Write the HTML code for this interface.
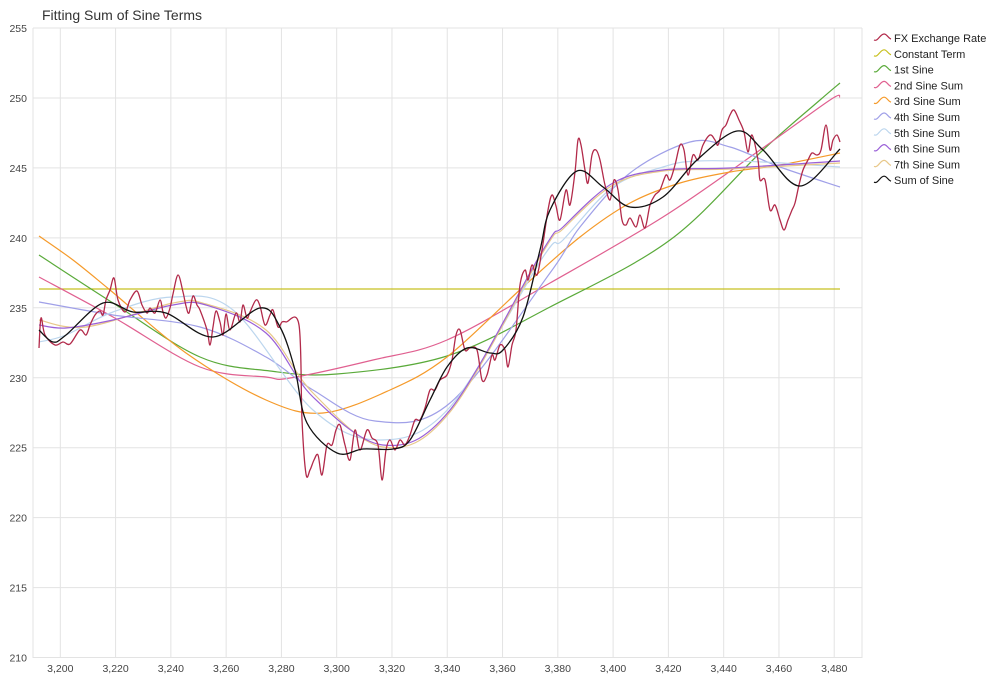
<!DOCTYPE html>
<html><head><meta charset="utf-8"><style>
body{margin:0;background:#fff;}
svg{display:block;font-family:"Liberation Sans",sans-serif;}
</style></head><body>
<svg id="s" width="998" height="681" viewBox="0 0 998 681">
<rect width="998" height="681" fill="#fff"/>
<g id="grid" stroke="#e3e3e3" stroke-width="1"></g>
<g id="axes" fill="#444" font-size="10.5"></g>
<text x="42" y="20" font-size="14" fill="#333">Fitting Sum of Sine Terms</text>
<g id="series" fill="none" stroke-width="1.2" stroke-linejoin="round"></g>
<g id="legend" font-size="11" fill="#222"></g>
</svg>
<script>
var NS="http://www.w3.org/2000/svg";
function el(t,a,p,txt){var e=document.createElementNS(NS,t);for(var k in a)e.setAttribute(k,a[k]);if(txt!=null)e.textContent=txt;p.appendChild(e);return e;}
var X=function(v){return 60.3+(v-3200)*2.764;};
var Y=function(v){return 28+(255-v)*13.99;};
var g=document.getElementById('grid'),ax=document.getElementById('axes');
for(var v=210;v<=255;v+=5){var y=Y(v);el('line',{x1:33,x2:862,y1:y,y2:y},g);el('text',{x:27,y:y+4,'text-anchor':'end'},ax,String(v));}
for(var v=3200;v<=3480;v+=20){var x=X(v);el('line',{x1:x,x2:x,y1:28,y2:658},g);el('text',{x:x,y:672,'text-anchor':'middle'},ax,(v+'').replace(/(\d)(\d{3})$/,'$1,$2'));}
el('line',{x1:33,x2:33,y1:28,y2:658},g);el('line',{x1:862,x2:862,y1:28,y2:658},g);
function cr(p){var d='M'+p[0][0]+','+p[0][1];for(var i=0;i<p.length-1;i++){var p0=p[i-1]||p[i],p1=p[i],p2=p[i+1],p3=p[i+2]||p2;
d+=' C'+(p1[0]+(p2[0]-p0[0])/6)+','+(p1[1]+(p2[1]-p0[1])/6)+' '+(p2[0]-(p3[0]-p1[0])/6)+','+(p2[1]-(p3[1]-p1[1])/6)+' '+p2[0]+','+p2[1];}return d;}
var S=document.getElementById('series');
function add(pts,c,w){el('path',{d:cr(pts),stroke:c,'stroke-width':w||1.2},S);}
add([[39,289],[840,289]],'#c8c020');
add([[39,255],[113,303],[200,357],[270,371],[337,374],[447,356],[550,307],[670,240],[763,150],[820,100],[840,83]],'#5aaa3a');
add([[39,277],[113,317],[200,367],[266,377],[290,378],[373,360],[447,340],[550,283],[663,217],[760,150],[830,100],[840,97]],'#e06090');
add([[39,236],[73,260],[110,290],[186,353],[266,400],[323,413],[390,390],[447,357],[523,287],[580,237],[630,203],[680,183],[730,172],[780,165],[840,153]],'#f59a2a');
add([[39,302],[113,315],[200,327],[266,357],[313,390],[375,421],[450,403],[550,273],[580,227],[630,173],[690,142],[730,147],[780,167],[840,187]],'#a0a0e8');
add([[39,342],[66,335],[113,312],[173,297],[233,310],[313,410],[380,440],[450,407],[543,257],[563,240],[613,187],[663,167],[697,161],[763,162],[840,167]],'#bcd6ee');
add([[39,320],[86,327],[173,303],[206,304],[266,330],[313,393],[383,447],[450,412],[543,252],[563,229],[613,185],[663,171],[730,169],[840,163]],'#e8c88a');
add([[39,325],[66,328],[113,320],[173,305],[206,305],[266,333],[313,397],[383,445],[450,410],[543,250],[563,227],[613,183],[663,170],[730,168],[840,161]],'#9a60d8');
var fx=[[39,348],[41,318],[45,335],[55,345],[63,342],[70,344],[80,330],[86,335],[90,325],[95,315],[100,311],[103,315],[106,300],[110,290],[114,278],[118,300],[125,312],[130,300],[137,291],[142,305],[147,313],[150,308],[155,313],[160,300],[163,312],[166,318],[170,308],[173,294],[178,275],[183,292],[186,306],[189,313],[193,296],[197,305],[200,310],[207,330],[210,345],[213,327],[216,311],[220,322],[223,335],[226,314],[230,330],[236,313],[240,322],[243,305],[247,318],[250,312],[256,300],[260,306],[265,325],[270,315],[273,310],[278,327],[282,322],[286,322],[299,325],[302,420],[306,474],[310,470],[314,460],[318,455],[322,475],[327,445],[332,445],[336,430],[340,425],[345,445],[350,460],[355,430],[360,450],[367,430],[372,438],[378,445],[382,480],[386,450],[390,440],[395,450],[400,440],[405,445],[410,435],[415,420],[420,420],[425,408],[430,390],[435,390],[440,380],[447,375],[452,360],[456,335],[460,330],[465,350],[470,348],[477,350],[482,380],[487,375],[492,355],[495,360],[500,345],[505,350],[508,367],[512,345],[516,330],[520,285],[525,270],[528,280],[532,265],[537,275],[542,250],[548,210],[552,195],[556,206],[560,220],[566,190],[570,205],[575,172],[578,140],[581,145],[585,170],[588,183],[592,155],[596,150],[600,160],[605,185],[610,200],[614,180],[618,190],[622,220],[626,225],[630,218],[636,227],[640,215],[645,228],[650,205],[655,195],[660,190],[666,175],[670,180],[675,165],[680,145],[684,150],[688,175],[693,155],[698,160],[703,145],[710,135],[715,140],[718,145],[722,130],[726,125],[730,115],[734,110],[739,120],[744,132],[748,152],[752,135],[758,160],[760,180],[765,180],[770,210],[775,205],[780,220],[784,230],[788,220],[792,210],[795,203],[799,185],[803,170],[808,160],[812,153],[817,155],[821,150],[826,125],[830,150],[833,140],[837,135],[840,142]];
add(fx,'#b22a4a',1.3);
add([[39,330],[53,342],[66,335],[103,303],[133,312],[166,313],[213,337],[260,308],[280,327],[295,370],[307,423],[337,453],[363,449],[393,449],[410,440],[430,400],[447,367],[467,348],[490,353],[503,350],[523,317],[540,250],[550,210],[577,171],[603,187],[630,207],[663,197],[697,160],[737,131],[763,150],[800,186],[840,149]],'#111',1.3);
var L=document.getElementById('legend');
var items=[['FX Exchange Rate','#b22a4a'],['Constant Term','#c8c020'],['1st Sine','#5aaa3a'],['2nd Sine Sum','#e06090'],['3rd Sine Sum','#f59a2a'],['4th Sine Sum','#a0a0e8'],['5th Sine Sum','#bcd6ee'],['6th Sine Sum','#9a60d8'],['7th Sine Sum','#e8c88a'],['Sum of Sine','#111']];
items.forEach(function(it,i){var y=38+i*15.8;
el('path',{d:'M874,'+(y+2)+' C878,'+(y+4)+' 880,'+(y-4)+' 884,'+(y-4)+' C887,'+(y-4)+' 888,'+(y)+' 891,'+(y+1),fill:'none',stroke:it[1],'stroke-width':1.2},L);
el('text',{x:894,y:y+4},L,it[0]);});
</script>
</body></html>
